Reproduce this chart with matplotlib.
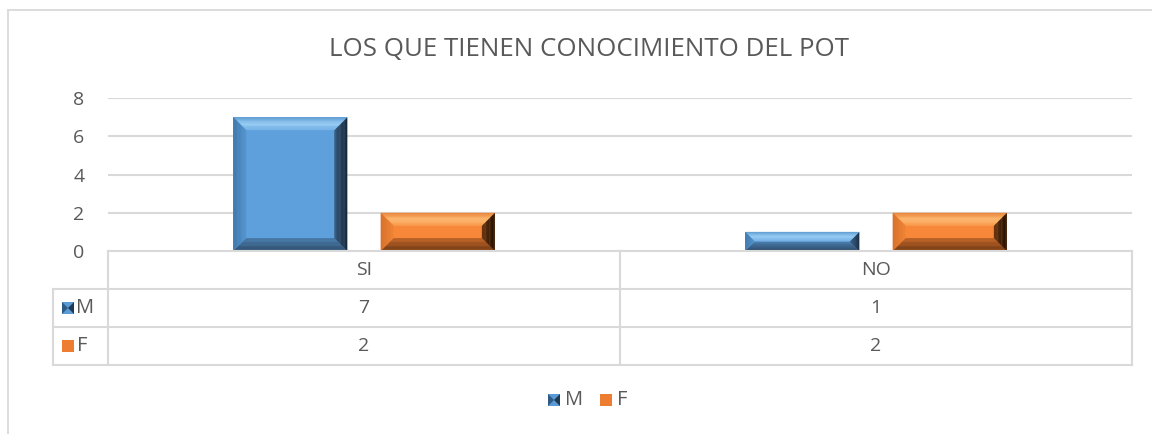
import matplotlib
matplotlib.use("Agg")
import matplotlib.pyplot as plt
from matplotlib.patches import Polygon, Rectangle
from matplotlib.lines import Line2D
from matplotlib.transforms import IdentityTransform
from matplotlib.colors import to_rgb
import numpy as np

# ---------------- data ----------------
categories = ["SI", "NO"]
series_names = ["M", "F"]
values_m = [7, 1]
values_f = [2, 2]
y_ticks = [0, 2, 4, 6, 8]
title = "LOS QUE TIENEN CONOCIMIENTO DEL POT"

# ---------------- style ----------------
W, H = 1152, 434
DPI = 100
FONT = "Open Sans"
TXT = "#595959"
GRID = "#D9D9D9"
BLUE = dict(face="#5DA0DC",
            top=["#5E9BD2", "#9ACFF5", "#74B0E6"],
            left=["#3F77AC", "#5595CF"],
            right=["#17283A", "#35587B"],
            bottom=["#2E4C6A", "#4A7DAC"])
ORANGE = dict(face="#F7883A",
              top=["#E98438", "#FDBA74", "#F99B4E"],
              left=["#D8702A", "#EE8436"],
              right=["#1E0F03", "#6B3710"],
              bottom=["#6E3812", "#C0652A"])

plt.rcParams["font.family"] = [FONT, "DejaVu Sans"]

fig = plt.figure(figsize=(W / DPI, H / DPI), dpi=DPI)


def fx(x):
    return x / W


def fy(y):
    return 1 - y / H


# outer chart border (top and left visible)
fig.add_artist(Line2D([fx(8), fx(1152)], [fy(10), fy(10)], color=GRID, lw=1.3, transform=fig.transFigure))
fig.add_artist(Line2D([fx(8), fx(8)], [fy(10), fy(434)], color=GRID, lw=1.3, transform=fig.transFigure))

# plot area
AX_L, AX_R, AX_T, AX_B = 108, 1132, 98, 251
ax = fig.add_axes([fx(AX_L), fy(AX_B), (AX_R - AX_L) / W, (AX_B - AX_T) / H])
ax.set_xlim(-0.5, len(categories) - 0.5)
ax.set_ylim(0, 8)
ax.set_yticks(y_ticks)
ax.set_yticklabels([str(t) for t in y_ticks], fontsize=14, color=TXT)
ax.tick_params(axis="y", length=0, pad=17)
ax.set_xticks([])
for s in ax.spines.values():
    s.set_visible(False)
ax.grid(axis="y", color=GRID, lw=1.5)
ax.set_axisbelow(True)
ax.patch.set_alpha(0)

x = np.arange(len(categories))
bw = 0.223
off = 0.144
bars_m = ax.bar(x - off, values_m, bw, color=BLUE["face"], zorder=2)
bars_f = ax.bar(x + off, values_f, bw, color=ORANGE["face"], zorder=2)

fig.canvas.draw()


def lerp_colors(stops, t):
    n = len(stops) - 1
    pos = min(t * n, n - 1e-9)
    k = int(pos)
    f = pos - k
    a = np.array(to_rgb(stops[k]))
    b = np.array(to_rgb(stops[k + 1]))
    return tuple(a + (b - a) * f)


def bevel(rect, c, b=13, steps=10):
    x0, y0 = rect.get_x(), rect.get_y()
    x1, y1 = x0 + rect.get_width(), y0 + rect.get_height()
    px0, py0 = ax.transData.transform((x0, y0))
    px1, py1 = ax.transData.transform((x1, y1))
    bb = min(b, (py1 - py0) / 2.0, (px1 - px0) / 2.0)

    def ring(d):
        return [(px0 + d, py0 + d), (px1 - d, py0 + d), (px1 - d, py1 - d), (px0 + d, py1 - d)]

    sides = [("bottom", 0, 1), ("right", 1, 2), ("top", 2, 3), ("left", 3, 0)]
    for s in range(steps):
        da = bb * s / steps
        db = bb * (s + 1) / steps
        oa, ob = ring(da), ring(db + 0.3 if s < steps - 1 else db)
        t = (s + 0.5) / steps
        for name, i, j in sides:
            col = lerp_colors(c[name], t)
            ax.add_artist(Polygon([oa[i], oa[j], ob[j], ob[i]], closed=True, facecolor=col,
                                  edgecolor="none", transform=IdentityTransform(), zorder=3,
                                  clip_on=False, antialiased=True))


for r in bars_m:
    bevel(r, BLUE)
for r in bars_f:
    bevel(r, ORANGE)

# title
fig.text(fx(589), fy(49), title, ha="center", va="center", fontsize=18.6, color=TXT)

# ---------------- data table ----------------
T_ROWL = 53
rows_y = [251, 289, 327, 365]


def hline(y, xa, xb):
    fig.add_artist(Line2D([fx(xa), fx(xb)], [fy(y), fy(y)], color=GRID, lw=1.5, transform=fig.transFigure))


def vline(xp, ya, yb):
    fig.add_artist(Line2D([fx(xp), fx(xp)], [fy(ya), fy(yb)], color=GRID, lw=1.5, transform=fig.transFigure))


hline(rows_y[0], AX_L, AX_R)
for yy in rows_y[1:]:
    hline(yy, T_ROWL, AX_R)
vline(T_ROWL, rows_y[1], rows_y[3])
bounds = [ax.transData.transform((b, 0))[0] for b in np.arange(len(categories) + 1) - 0.5]
for bx in bounds:
    vline(bx, rows_y[0], rows_y[3])

centers = [ax.transData.transform((c, 0))[0] for c in x]
row_c = [(rows_y[k] + rows_y[k + 1]) / 2 for k in range(3)]
for ci, cat in enumerate(categories):
    fig.text(fx(centers[ci]), fy(row_c[0]), cat, ha="center", va="center", fontsize=14, color=TXT)
    fig.text(fx(centers[ci]), fy(row_c[1]), str(values_m[ci]), ha="center", va="center", fontsize=14, color=TXT)
    fig.text(fx(centers[ci]), fy(row_c[2]), str(values_f[ci]), ha="center", va="center", fontsize=14, color=TXT)


def marker(xl, yc, blue, size=12):
    x0, x1 = fx(xl), fx(xl + size)
    y0, y1 = fy(yc + size / 2), fy(yc - size / 2)
    if blue:
        fig.add_artist(Rectangle((x0, y0), x1 - x0, y1 - y0, facecolor="#5B9BD5", edgecolor="none",
                                 transform=fig.transFigure))
        xm, ym = (x0 + x1) / 2, (y0 + y1) / 2
        fig.add_artist(Polygon([(x0, y0), (x0, y1), (xm, ym)], closed=True, facecolor="#2E5A86",
                               edgecolor="none", transform=fig.transFigure))
        fig.add_artist(Polygon([(x1, y0), (x1, y1), (xm, ym)], closed=True, facecolor="#1F3A55",
                               edgecolor="none", transform=fig.transFigure))
    else:
        fig.add_artist(Rectangle((x0, y0), x1 - x0, y1 - y0, facecolor="#ED7D31", edgecolor="none",
                                 transform=fig.transFigure))


marker(62, row_c[1], True)
fig.text(fx(76), fy(row_c[1]), series_names[0], ha="left", va="center", fontsize=14.5, color=TXT)
marker(62, row_c[2], False)
fig.text(fx(77), fy(row_c[2]), series_names[1], ha="left", va="center", fontsize=14.5, color=TXT)

# legend
marker(548, 400, True)
fig.text(fx(565), fy(400), series_names[0], ha="left", va="center", fontsize=14.5, color=TXT)
marker(600, 400, False)
fig.text(fx(617), fy(400), series_names[1], ha="left", va="center", fontsize=14.5, color=TXT)

fig.savefig("out.png", dpi=DPI)
